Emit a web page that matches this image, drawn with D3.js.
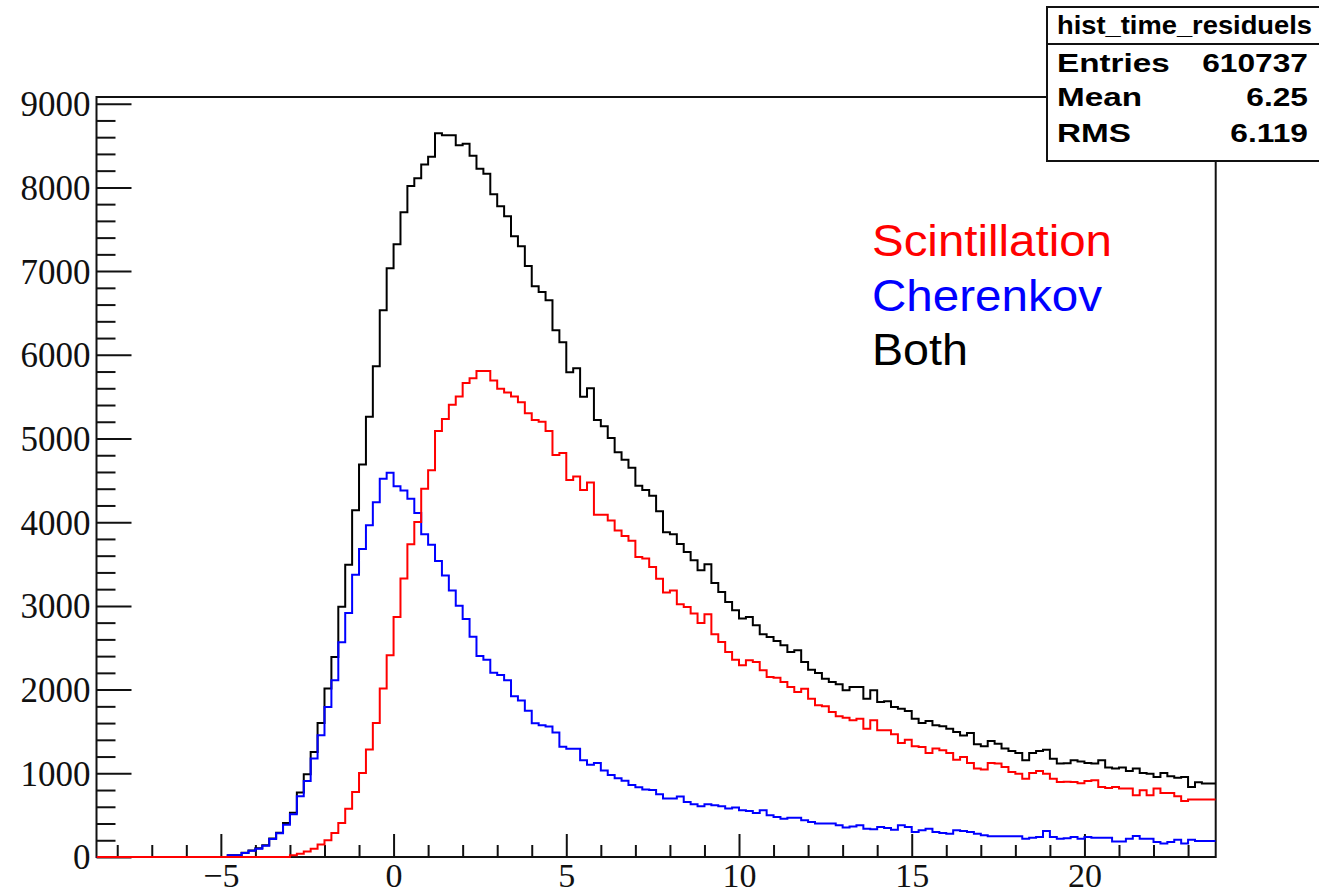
<!DOCTYPE html>
<html>
<head>
<meta charset="utf-8">
<script src="https://cdn.jsdelivr.net/npm/d3@7"></script>
<style>
  body { margin: 0; background: #fff; }
</style>
</head>
<body>
<div id="chart"></div>
<script>
// histogram binning (162 bins of 0.2 from -8.6)
var xLow = -8.6, binWidth = 0.2;

var scintillation = [
  0,0,0,0,0,0,0,0,0,0,
  0,0,0,0,0,0,0,0,0,0,
  0,0,0,0,0,0,0,0,20,40,
  65,100,150,200,287,406,577,777,1004,1283,
  1601,2012,2410,2868,3326,3736,4003,4401,4620,5090,
  5233,5404,5502,5662,5719,5805,5805,5692,5595,5551,
  5502,5434,5301,5220,5200,5091,4804,4828,4505,4546,
  4384,4473,4090,4090,4021,3900,3835,3779,3585,3565,
  3464,3323,3161,3185,3020,2987,2908,2796,2900,2661,
  2569,2449,2358,2290,2350,2330,2230,2151,2143,2091,
  2031,1971,2011,1892,1812,1800,1733,1681,1665,1633,
  1653,1533,1633,1513,1513,1466,1362,1402,1322,1314,
  1242,1295,1275,1242,1163,1195,1123,1056,1044,1123,
  1116,1075,1016,996,936,1004,1028,996,936,896,
  900,896,880,908,916,836,824,836,817,817,
  737,797,737,817,765,765,725,669,686,686,
  686,686
];

var cherenkov = [
  0,0,0,0,0,0,0,0,0,0,
  0,0,0,0,0,0,0,0,0,20,
  22,48,75,100,135,215,285,385,512,725,
  908,1176,1454,1792,2111,2565,2915,3373,3680,3965,
  4238,4520,4592,4430,4378,4280,4110,3855,3732,3535,
  3363,3185,3002,2842,2631,2402,2356,2202,2175,2111,
  1922,1869,1748,1599,1574,1558,1486,1316,1292,1292,
  1155,1102,1122,1033,981,941,912,860,832,807,
  799,751,698,698,722,657,629,605,629,617,
  605,578,590,558,550,526,558,498,478,458,
  470,470,438,418,399,399,399,379,351,363,
  379,339,331,359,345,327,379,359,299,319,
  339,299,287,279,319,311,299,279,259,247,
  247,247,247,247,219,231,239,311,239,219,
  225,239,219,239,231,231,231,184,184,219,
  251,219,219,179,160,179,207,160,207,192,
  192,192
];

var both = [
  0,0,0,0,0,0,0,0,0,0,
  0,0,0,0,0,0,0,0,0,20,
  22,50,78,105,140,220,290,406,530,770,
  988,1255,1601,2012,2390,2990,3492,4144,4690,5261,
  5862,6531,7034,7320,7703,8018,8109,8275,8367,8647,
  8624,8624,8504,8521,8378,8224,8163,7919,7776,7655,
  7416,7296,7061,6818,6750,6651,6293,6150,5790,5840,
  5500,5600,5220,5145,5005,4835,4745,4650,4435,4385,
  4315,4130,3880,3855,3740,3644,3545,3425,3497,3273,
  3166,3047,2947,2848,2868,2768,2660,2629,2581,2529,
  2449,2469,2330,2238,2198,2131,2091,2063,1991,2031,
  2031,1892,1991,1852,1860,1792,1772,1744,1653,1600,
  1624,1573,1561,1533,1493,1453,1481,1346,1322,1386,
  1354,1295,1266,1242,1155,1242,1266,1282,1175,1116,
  1120,1155,1140,1123,1116,1155,1068,1056,1068,1028,
  1056,1004,996,956,1004,964,948,956,836,892,
  877,877
];

var yMajorTicks = [0,1000,2000,3000,4000,5000,6000,7000,8000,9000];
var xMajorTicks = [-5,0,5,10,15,20];
var yMax = 9080;

var statsTitle = "hist_time_residuels";
var statsNames = ["Entries", "Mean", "RMS"];
var statsValues = ["610737", "6.25", "6.119"];

var legendNames = ["Scintillation", "Cherenkov", "Both"];
var legendColors = ["#ff0000", "#0000ff", "#000000"];
var legendWidths = [240, 230, 96];

var W = 1319, H = 896;
var frame = {left: 96.5, right: 1215.7, top: 97, bottom: 857};

var svg = d3.select("#chart")
  .append("svg")
    .attr("width", W)
    .attr("height", H);

var nBins = both.length;
var xHigh = xLow + binWidth * nBins;
var edges = d3.range(nBins + 1).map(function(i) { return xLow + binWidth * i; });

var x = d3.scaleLinear()
    .domain([xLow, xHigh])
    .range([frame.left, frame.right]);

var y = d3.scaleLinear()
    .domain([0, yMax])
    .range([frame.bottom, frame.top]);

// frame first, histograms are drawn over it
svg.append("rect")
  .attr("x", frame.left).attr("y", frame.top)
  .attr("width", frame.right - frame.left)
  .attr("height", frame.bottom - frame.top)
  .attr("fill", "none")
  .attr("stroke", "#111")
  .attr("stroke-width", 2);

// y axis: major + minor ticks inside the frame
var yMinor = d3.range(0, 9001, 200).filter(function(v) { return v % 1000 != 0; });
svg.append("g")
  .attr("transform", "translate(" + frame.left + ",0)")
  .call(d3.axisLeft(y).tickValues(yMinor).tickSize(-19).tickFormat(""))
  .call(function(g) { g.select(".domain").remove(); });

var yAxis = svg.append("g")
  .attr("transform", "translate(" + frame.left + ",0)")
  .call(d3.axisLeft(y).tickValues(yMajorTicks).tickSize(-35).tickPadding(6).tickFormat(d3.format("d")));
yAxis.select(".domain").remove();
yAxis.selectAll("text")
  .attr("dy", "0.34em")
  .style("font-family", "'Liberation Serif', 'DejaVu Serif', serif")
  .style("font-size", "35px")
  .attr("fill", "#111");

// x axis
var xMinor = d3.range(-8, 24, 1).filter(function(v) { return v % 5 != 0; });
svg.append("g")
  .attr("transform", "translate(0," + frame.bottom + ")")
  .call(d3.axisBottom(x).tickValues(xMinor).tickSize(-12).tickFormat(""))
  .call(function(g) { g.select(".domain").remove(); });

var xAxis = svg.append("g")
  .attr("transform", "translate(0," + frame.bottom + ")")
  .call(d3.axisBottom(x).tickValues(xMajorTicks).tickSize(-23).tickPadding(6));
xAxis.select(".domain").remove();
xAxis.selectAll("text")
  .style("font-family", "'Liberation Serif', 'DejaVu Serif', serif")
  .style("font-size", "34px")
  .attr("fill", "#111");

svg.selectAll(".tick line").attr("stroke", "#111").attr("stroke-width", 2);

// histograms
svg.append("clipPath").attr("id", "clip")
  .append("rect")
    .attr("x", frame.left).attr("y", frame.top - 2)
    .attr("width", frame.right - frame.left).attr("height", frame.bottom - frame.top + 4);

var step = d3.line()
    .x(function(d) { return x(d[0]); })
    .y(function(d) { return y(d[1]); })
    .curve(d3.curveStepAfter);

function histPoints(vals) {
  var pts = vals.map(function(v, i) { return [edges[i], v]; });
  pts.push([edges[nBins], vals[nBins - 1]]);
  return pts;
}

var series = [
  {vals: both, color: "#000000"},
  {vals: cherenkov, color: "#0000ff"},
  {vals: scintillation, color: "#ff0000"}
];

svg.append("g")
  .attr("clip-path", "url(#clip)")
  .selectAll("path")
  .data(series)
  .enter()
  .append("path")
    .attr("d", function(d) { return step(histPoints(d.vals)); })
    .attr("fill", "none")
    .attr("stroke", function(d) { return d.color; })
    .attr("stroke-width", 2);

// legend text
svg.append("g")
  .selectAll("text")
  .data(legendNames)
  .enter()
  .append("text")
    .attr("x", 872)
    .attr("y", function(d, i) { return 256 + i * 54.5; })
    .attr("fill", function(d, i) { return legendColors[i]; })
    .attr("textLength", function(d, i) { return legendWidths[i]; })
    .attr("lengthAdjust", "spacingAndGlyphs")
    .style("font-family", "'Liberation Sans', Arial, sans-serif")
    .style("font-size", "45px")
    .text(function(d) { return d; });

// stats box
var stats = svg.append("g");
stats.append("rect")
  .attr("x", 1047).attr("y", 7)
  .attr("width", 320).attr("height", 154)
  .attr("fill", "#fff")
  .attr("stroke", "#111")
  .attr("stroke-width", 2);
stats.append("line")
  .attr("x1", 1047).attr("x2", 1319)
  .attr("y1", 44).attr("y2", 44)
  .attr("stroke", "#111")
  .attr("stroke-width", 2);
stats.append("text")
  .attr("x", 1057).attr("y", 34)
  .attr("textLength", 255)
  .attr("lengthAdjust", "spacingAndGlyphs")
  .style("font-family", "'Liberation Sans', Arial, sans-serif")
  .style("font-weight", "bold")
  .style("font-size", "26px")
  .text(statsTitle);

var rowY = [72, 106, 142];
stats.selectAll(".sname")
  .data(statsNames)
  .enter()
  .append("text")
    .attr("class", "sname")
    .attr("x", 1057)
    .attr("y", function(d, i) { return rowY[i]; })
    .style("font-family", "'Liberation Sans', Arial, sans-serif")
    .style("font-weight", "bold")
    .style("font-size", "26px")
    .attr("transform", function(d, i) { return "translate(1057," + rowY[i] + ") scale(1.28,1) translate(-1057," + (-rowY[i]) + ")"; })
    .text(function(d) { return d; });

stats.selectAll(".sval")
  .data(statsValues)
  .enter()
  .append("text")
    .attr("class", "sval")
    .attr("x", 1308)
    .attr("y", function(d, i) { return rowY[i]; })
    .attr("text-anchor", "end")
    .style("font-family", "'Liberation Sans', Arial, sans-serif")
    .style("font-weight", "bold")
    .style("font-size", "26px")
    .attr("transform", function(d, i) { return "translate(1308," + rowY[i] + ") scale(1.22,1) translate(-1308," + (-rowY[i]) + ")"; })
    .text(function(d) { return d; });
</script>
</body>
</html>
